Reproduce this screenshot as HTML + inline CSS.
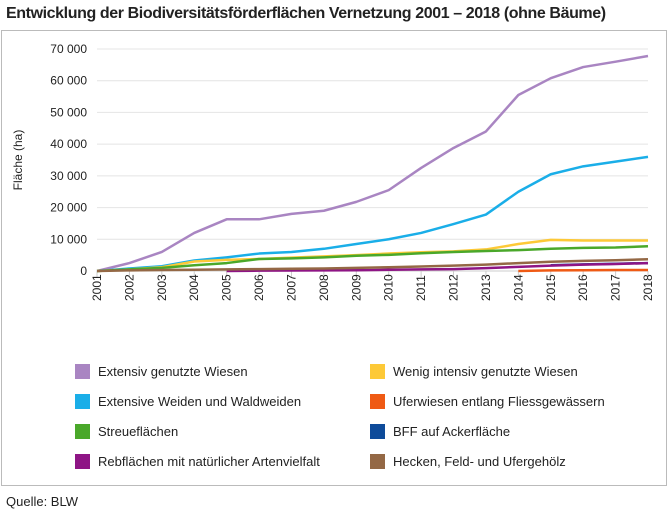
<!DOCTYPE html>
<html><head><meta charset="utf-8"><style>
body{margin:0;width:668px;height:514px;background:#fff;font-family:"Liberation Sans",sans-serif;overflow:hidden}
#title{position:absolute;left:6px;top:5px;font-size:16px;font-weight:bold;color:#222;letter-spacing:-0.4px}
#src{position:absolute;left:6px;top:494px;font-size:13px;color:#222}
</style></head><body>
<div id="title">Entwicklung der Biodiversitätsförderflächen Vernetzung 2001 – 2018 (ohne Bäume)</div>
<svg id="chart" width="668" height="514" style="position:absolute;left:0;top:0"></svg>
<div id="src">Quelle: BLW</div>
<script>
const years=[2001,2002,2003,2004,2005,2006,2007,2008,2009,2010,2011,2012,2013,2014,2015,2016,2017,2018];
const yTicks=[0,10000,20000,30000,40000,50000,60000,70000];
const extensivWiesen=[0,2500,6000,12000,16300,16300,18000,19000,21800,25500,32500,38800,44000,55500,60800,64300,66000,67800];
const extensivWeiden=[0,800,1500,3300,4300,5500,6000,7000,8500,10000,12000,14800,17800,25000,30500,33000,34500,36000];
const wenigIntensiv=[0,500,1200,3000,3500,3800,4200,4600,5000,5500,5900,6200,6800,8500,9800,9600,9600,9600];
const streue=[0,500,1000,1800,2500,3800,4000,4300,4800,5100,5600,6000,6300,6600,7000,7300,7400,7800];
const hecken=[0,200,300,400,500,600,700,800,1000,1200,1400,1700,2000,2500,2900,3200,3400,3700];
const bffAcker=[null,null,null,null,null,null,null,null,null,null,null,null,null,null,1800,2100,2300,2500];
const rebflaechen=[null,null,null,null,0,100,150,200,250,400,500,600,900,1300,1700,2000,2200,2500];
const uferwiesen=[null,null,null,null,null,null,null,null,null,null,null,null,null,0,200,250,300,300];
const series=[
 ["Extensiv genutzte Wiesen","#a985c2",extensivWiesen,0,0],
 ["Wenig intensiv genutzte Wiesen","#fdc937",wenigIntensiv,1,0],
 ["Extensive Weiden und Waldweiden","#1aaee8",extensivWeiden,0,1],
 ["Uferwiesen entlang Fliessgewässern","#ef5a14",uferwiesen,1,1],
 ["Streueflächen","#4aa82a",streue,0,2],
 ["BFF auf Ackerfläche","#0e4b9a",bffAcker,1,2],
 ["Rebflächen mit natürlicher Artenvielfalt","#8e1585",rebflaechen,0,3],
 ["Hecken, Feld- und Ufergehölz","#946845",hecken,1,3]];
const drawOrder=[0,2,1,4,5,6,7,3];
const svg=document.getElementById('chart');const NS='http://www.w3.org/2000/svg';
function mk(t,a,p){const e=document.createElementNS(NS,t);for(const k in a)e.setAttribute(k,a[k]);(p||svg).appendChild(e);return e;}
const x0=97,x1=648,yb=271,yt=49;
const X=i=>x0+(x1-x0)*(years[i]-years[0])/(years[years.length-1]-years[0]);
const Y=v=>yb-(yb-yt)*v/70000;
const frame=mk('rect',{x:1.5,y:30.5,width:665,height:455,fill:'none',stroke:'#bbb'});

yTicks.forEach(v=>{const g=mk('line',{x1:x0,x2:x1,y1:Y(v),y2:Y(v),stroke:'#e4e4e4','stroke-width':1});

const t=mk('text',{x:87,y:Y(v)+4,'text-anchor':'end','font-size':12,fill:'#222'});t.textContent=v===0?'0':(v/1000)+' 000';
});
const ax=mk('line',{x1:x0,x2:x1,y1:yb,y2:yb,stroke:'#ccc'});
years.forEach((yr,i)=>{const tk=mk('line',{x1:X(i),x2:X(i),y1:yb,y2:yb+6,stroke:'#ccc'});

const t=mk('text',{transform:`translate(${X(i)+4},${yb+30}) rotate(-90)`,'font-size':12,fill:'#222'});t.textContent=yr;
});
const yt2=mk('text',{transform:'translate(22,160) rotate(-90)','text-anchor':'middle','font-size':12,fill:'#222'});yt2.textContent='Fläche (ha)';

drawOrder.forEach(si=>{const s=series[si];let d='';s[2].forEach((v,i)=>{if(v===null)return;d+=(d?'L':'M')+X(i)+','+Y(v);});
const p=mk('path',{d:d,fill:'none',stroke:s[1],'stroke-width':2.5,'stroke-linejoin':'round'});
});
series.forEach(s=>{const lx=s[3]?370:75,ly=371+s[4]*30;
const r=mk('rect',{x:lx,y:ly-7,width:15,height:15,fill:s[1]});
const t=mk('text',{x:lx+23,y:ly+5,'font-size':13,fill:'#222'});t.textContent=s[0];
});
</script></body></html>
